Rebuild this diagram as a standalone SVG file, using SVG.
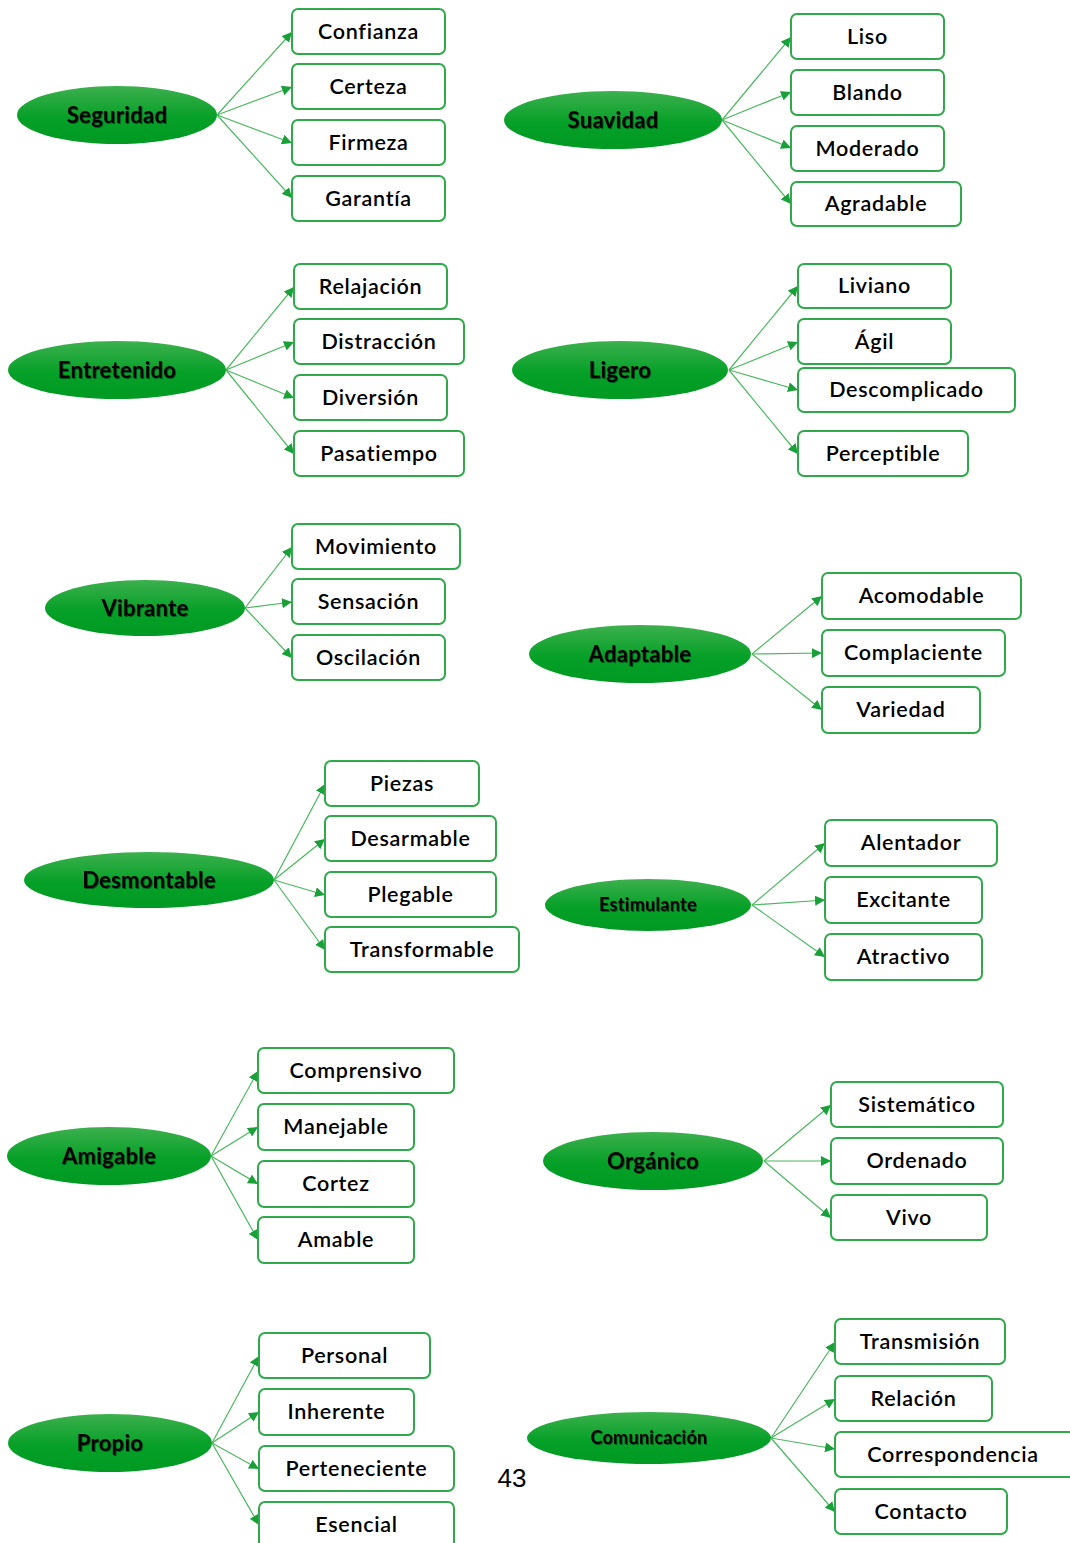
<svg xmlns="http://www.w3.org/2000/svg" width="1070" height="1543" viewBox="0 0 1070 1543">
<defs>
<linearGradient id="g" x1="0" y1="0" x2="0" y2="1">
<stop offset="0" stop-color="#3db04e"/>
<stop offset="0.55" stop-color="#05a027"/>
<stop offset="1" stop-color="#009a22"/>
</linearGradient>
<marker id="ah" viewBox="0 0 10 10" refX="10" refY="5" markerWidth="10" markerHeight="10" markerUnits="userSpaceOnUse" orient="auto">
<path d="M0,0 L10,5 L0,10 z" fill="#19a038"/>
</marker>
<filter id="sh" x="-10%" y="-20%" width="120%" height="140%">
<feDropShadow dx="1" dy="1" stdDeviation="0.6" flood-color="#000" flood-opacity="0.45"/>
</filter>
</defs>
<style>
.e{fill:url(#g)}
.et{font-family:Lato,"Open Sans",sans-serif;font-weight:bold;font-size:22px;letter-spacing:0.3px;fill:#000;text-anchor:middle;dominant-baseline:central;filter:url(#sh)}
.es{font-size:18px}
.b{fill:#fff;stroke:#2eaa4a;stroke-width:2}
.bt{font-family:Lato,"Open Sans",sans-serif;font-weight:600;font-size:21.5px;letter-spacing:0.7px;fill:#000;text-anchor:middle;dominant-baseline:central}
.c line{stroke:#4ab85e;stroke-width:1.2;marker-end:url(#ah)}
.pg{font-family:"Liberation Sans",Arial,sans-serif;font-size:26px;fill:#000;text-anchor:middle}
</style>

<g id="connectors" class="c">
<line x1="217" y1="115" x2="292" y2="32"/>
<line x1="217" y1="115" x2="292" y2="87"/>
<line x1="217" y1="115" x2="292" y2="143"/>
<line x1="217" y1="115" x2="292" y2="198"/>

<line x1="722" y1="120" x2="791" y2="37"/>
<line x1="722" y1="120" x2="791" y2="92"/>
<line x1="722" y1="120" x2="791" y2="148"/>
<line x1="722" y1="120" x2="791" y2="204"/>

<line x1="226" y1="370" x2="294" y2="287"/>
<line x1="226" y1="370" x2="294" y2="342"/>
<line x1="226" y1="370" x2="294" y2="398"/>
<line x1="226" y1="370" x2="294" y2="454"/>

<line x1="729" y1="370" x2="798" y2="286"/>
<line x1="729" y1="370" x2="798" y2="342"/>
<line x1="729" y1="370" x2="798" y2="390"/>
<line x1="729" y1="370" x2="798" y2="454"/>

<line x1="245" y1="608" x2="292" y2="547"/>
<line x1="245" y1="608" x2="292" y2="602"/>
<line x1="245" y1="608" x2="292" y2="658"/>

<line x1="752" y1="654" x2="822" y2="596"/>
<line x1="752" y1="654" x2="822" y2="653"/>
<line x1="752" y1="654" x2="822" y2="710"/>

<line x1="274" y1="880" x2="325" y2="784"/>
<line x1="274" y1="880" x2="325" y2="839"/>
<line x1="274" y1="880" x2="325" y2="895"/>
<line x1="274" y1="880" x2="325" y2="950"/>

<line x1="752" y1="905" x2="825" y2="843"/>
<line x1="752" y1="905" x2="825" y2="900"/>
<line x1="752" y1="905" x2="825" y2="957"/>

<line x1="211" y1="1156" x2="258" y2="1071"/>
<line x1="211" y1="1156" x2="258" y2="1127"/>
<line x1="211" y1="1156" x2="258" y2="1184"/>
<line x1="211" y1="1156" x2="258" y2="1240"/>

<line x1="764" y1="1161" x2="831" y2="1105"/>
<line x1="764" y1="1161" x2="831" y2="1161"/>
<line x1="764" y1="1161" x2="831" y2="1218"/>

<line x1="212" y1="1443" x2="259" y2="1356"/>
<line x1="212" y1="1443" x2="259" y2="1412"/>
<line x1="212" y1="1443" x2="259" y2="1469"/>
<line x1="212" y1="1443" x2="259" y2="1525"/>

<line x1="771" y1="1438" x2="835" y2="1342"/>
<line x1="771" y1="1438" x2="835" y2="1399"/>
<line x1="771" y1="1438" x2="835" y2="1449"/>
<line x1="771" y1="1438" x2="835" y2="1512"/>
</g>

<!-- Group 1 -->
<g id="seguridad"><ellipse class="e" cx="117" cy="115" rx="100" ry="29"/><text class="et" x="117" y="114">Seguridad</text></g>
<g id="confianza"><rect class="b" x="292" y="9" width="153" height="45" rx="6"/><text class="bt" x="368.5" y="30.5">Confianza</text></g>
<g id="certeza"><rect class="b" x="292" y="64" width="153" height="45" rx="6"/><text class="bt" x="368.5" y="85.5">Certeza</text></g>
<g id="firmeza"><rect class="b" x="292" y="120" width="153" height="45" rx="6"/><text class="bt" x="368.5" y="141.5">Firmeza</text></g>
<g id="garantia"><rect class="b" x="292" y="176" width="153" height="45" rx="6"/><text class="bt" x="368.5" y="197.5">Garantía</text></g>

<g id="suavidad"><ellipse class="e" cx="613" cy="120" rx="109" ry="29"/><text class="et" x="613" y="119">Suavidad</text></g>
<g id="liso"><rect class="b" x="791" y="14" width="153" height="45" rx="6"/><text class="bt" x="867.5" y="35.5">Liso</text></g>
<g id="blando"><rect class="b" x="791" y="70" width="153" height="45" rx="6"/><text class="bt" x="867.5" y="91.5">Blando</text></g>
<g id="moderado"><rect class="b" x="791" y="126" width="153" height="45" rx="6"/><text class="bt" x="867.5" y="147.5">Moderado</text></g>
<g id="agradable"><rect class="b" x="791" y="182" width="170" height="44" rx="6"/><text class="bt" x="876" y="203">Agradable</text></g>

<!-- Group 2 -->
<g id="entretenido"><ellipse class="e" cx="117" cy="370" rx="109" ry="29"/><text class="et" x="117" y="369">Entretenido</text></g>
<g id="relajacion"><rect class="b" x="294" y="264" width="153" height="45" rx="6"/><text class="bt" x="370.5" y="285.5">Relajación</text></g>
<g id="distraccion"><rect class="b" x="294" y="319" width="170" height="45" rx="6"/><text class="bt" x="379" y="340.5">Distracción</text></g>
<g id="diversion"><rect class="b" x="294" y="375" width="153" height="45" rx="6"/><text class="bt" x="370.5" y="396.5">Diversión</text></g>
<g id="pasatiempo"><rect class="b" x="294" y="431" width="170" height="45" rx="6"/><text class="bt" x="379" y="452.5">Pasatiempo</text></g>

<g id="ligero"><ellipse class="e" cx="620" cy="370" rx="108" ry="29"/><text class="et" x="620" y="369">Ligero</text></g>
<g id="liviano"><rect class="b" x="798" y="264" width="153" height="44" rx="6"/><text class="bt" x="874.5" y="285">Liviano</text></g>
<g id="agil"><rect class="b" x="798" y="319" width="153" height="45" rx="6"/><text class="bt" x="874.5" y="340.5">Ágil</text></g>
<g id="descomplicado"><rect class="b" x="798" y="368" width="217" height="44" rx="6"/><text class="bt" x="906.5" y="389">Descomplicado</text></g>
<g id="perceptible"><rect class="b" x="798" y="431" width="170" height="45" rx="6"/><text class="bt" x="883" y="452.5">Perceptible</text></g>

<!-- Group 3 -->
<g id="vibrante"><ellipse class="e" cx="145" cy="608" rx="100" ry="28"/><text class="et" x="145" y="607">Vibrante</text></g>
<g id="movimiento"><rect class="b" x="292" y="524" width="168" height="45" rx="6"/><text class="bt" x="376" y="545.5">Movimiento</text></g>
<g id="sensacion"><rect class="b" x="292" y="579" width="153" height="45" rx="6"/><text class="bt" x="368.5" y="600.5">Sensación</text></g>
<g id="oscilacion"><rect class="b" x="292" y="635" width="153" height="45" rx="6"/><text class="bt" x="368.5" y="656.5">Oscilación</text></g>

<g id="adaptable"><ellipse class="e" cx="640" cy="654" rx="111" ry="29"/><text class="et" x="640" y="653">Adaptable</text></g>
<g id="acomodable"><rect class="b" x="822" y="573" width="199" height="46" rx="6"/><text class="bt" x="921.5" y="595">Acomodable</text></g>
<g id="complaciente"><rect class="b" x="822" y="630" width="183" height="46" rx="6"/><text class="bt" x="913.5" y="652">Complaciente</text></g>
<g id="variedad"><rect class="b" x="822" y="687" width="158" height="46" rx="6"/><text class="bt" x="901" y="709">Variedad</text></g>

<!-- Group 4 -->
<g id="desmontable"><ellipse class="e" cx="149" cy="880" rx="125" ry="28"/><text class="et" x="149" y="879">Desmontable</text></g>
<g id="piezas"><rect class="b" x="325" y="761" width="154" height="45" rx="6"/><text class="bt" x="402" y="782.5">Piezas</text></g>
<g id="desarmable"><rect class="b" x="325" y="816" width="171" height="45" rx="6"/><text class="bt" x="410.5" y="837.5">Desarmable</text></g>
<g id="plegable"><rect class="b" x="325" y="872" width="171" height="45" rx="6"/><text class="bt" x="410.5" y="893.5">Plegable</text></g>
<g id="transformable"><rect class="b" x="325" y="927" width="194" height="45" rx="6"/><text class="bt" x="422" y="948.5">Transformable</text></g>

<g id="estimulante"><ellipse class="e" cx="648" cy="905" rx="103" ry="26"/><text class="et es" x="648" y="904">Estimulante</text></g>
<g id="alentador"><rect class="b" x="825" y="820" width="172" height="46" rx="6"/><text class="bt" x="911" y="842">Alentador</text></g>
<g id="excitante"><rect class="b" x="825" y="877" width="157" height="46" rx="6"/><text class="bt" x="903.5" y="899">Excitante</text></g>
<g id="atractivo"><rect class="b" x="825" y="934" width="157" height="46" rx="6"/><text class="bt" x="903.5" y="956">Atractivo</text></g>

<!-- Group 5 -->
<g id="amigable"><ellipse class="e" cx="109" cy="1156" rx="102" ry="29"/><text class="et" x="109" y="1155">Amigable</text></g>
<g id="comprensivo"><rect class="b" x="258" y="1048" width="196" height="45" rx="6"/><text class="bt" x="356" y="1069.5">Comprensivo</text></g>
<g id="manejable"><rect class="b" x="258" y="1104" width="156" height="46" rx="6"/><text class="bt" x="336" y="1126">Manejable</text></g>
<g id="cortez"><rect class="b" x="258" y="1161" width="156" height="46" rx="6"/><text class="bt" x="336" y="1183">Cortez</text></g>
<g id="amable"><rect class="b" x="258" y="1217" width="156" height="46" rx="6"/><text class="bt" x="336" y="1239">Amable</text></g>

<g id="organico"><ellipse class="e" cx="653" cy="1161" rx="110" ry="29"/><text class="et" x="653" y="1160">Orgánico</text></g>
<g id="sistematico"><rect class="b" x="831" y="1082" width="172" height="45" rx="6"/><text class="bt" x="917" y="1103.5">Sistemático</text></g>
<g id="ordenado"><rect class="b" x="831" y="1138" width="172" height="46" rx="6"/><text class="bt" x="917" y="1160">Ordenado</text></g>
<g id="vivo"><rect class="b" x="831" y="1195" width="156" height="45" rx="6"/><text class="bt" x="909" y="1216.5">Vivo</text></g>

<!-- Group 6 -->
<g id="propio"><ellipse class="e" cx="110" cy="1443" rx="102" ry="29"/><text class="et" x="110" y="1442">Propio</text></g>
<g id="personal"><rect class="b" x="259" y="1333" width="171" height="45" rx="6"/><text class="bt" x="344.5" y="1354.5">Personal</text></g>
<g id="inherente"><rect class="b" x="259" y="1389" width="155" height="46" rx="6"/><text class="bt" x="336.5" y="1411">Inherente</text></g>
<g id="perteneciente"><rect class="b" x="259" y="1446" width="195" height="45" rx="6"/><text class="bt" x="356.5" y="1467.5">Perteneciente</text></g>
<g id="esencial"><rect class="b" x="259" y="1502" width="195" height="50" rx="6"/><text class="bt" x="356.5" y="1524">Esencial</text></g>

<g id="comunicacion"><ellipse class="e" cx="649" cy="1438" rx="122" ry="26"/><text class="et es" x="649" y="1437">Comunicación</text></g>
<g id="transmision"><rect class="b" x="835" y="1319" width="170" height="45" rx="6"/><text class="bt" x="920" y="1340.5">Transmisión</text></g>
<g id="relacion"><rect class="b" x="835" y="1376" width="157" height="45" rx="6"/><text class="bt" x="913.5" y="1397.5">Relación</text></g>
<g id="correspondencia"><rect class="b" x="835" y="1432" width="240" height="45" rx="6"/><text class="bt" x="953" y="1453.5">Correspondencia</text></g>
<g id="contacto"><rect class="b" x="835" y="1489" width="172" height="45" rx="6"/><text class="bt" x="921" y="1510.5">Contacto</text></g>

<text class="pg" x="512" y="1487">43</text>
</svg>
